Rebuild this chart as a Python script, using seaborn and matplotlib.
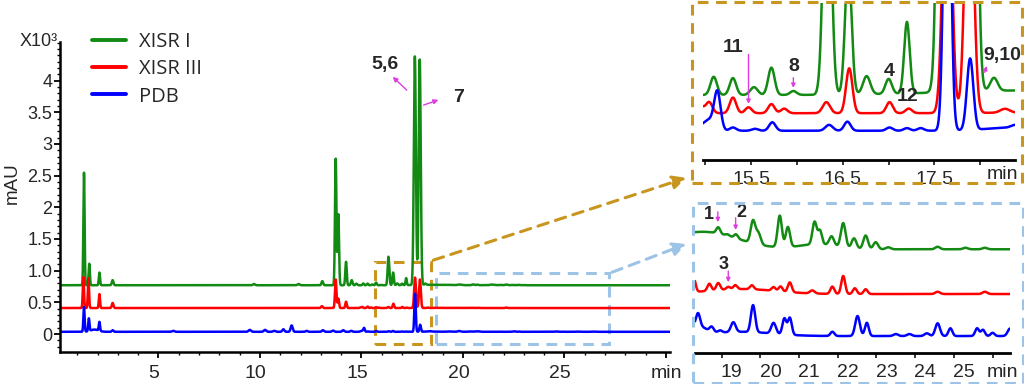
import numpy as np
import pandas as pd
import matplotlib
matplotlib.use("Agg")
import matplotlib.pyplot as plt
import matplotlib.transforms as mtransforms
from matplotlib.lines import Line2D
from matplotlib.patches import Rectangle, FancyArrowPatch
from matplotlib.ticker import MultipleLocator
import seaborn as sns

# Peak tables: retention time (min), height (mAU), sigma (min)
green_rt = [1.33, 1.59, 2.09, 2.74, 9.70, 11.90, 13.07, 13.73, 13.86, 14.24, 14.52, 14.75,
            15.09, 15.30, 15.53, 15.72, 15.96, 16.33, 16.56, 16.76, 17.00, 17.20, 17.63, 17.87,
            18.15, 18.50, 18.91, 19.15, 19.37, 19.81, 19.95, 20.50, 20.71, 21.50, 21.40, 21.54,
            21.84, 22.14, 22.42, 22.72, 22.98, 23.30, 24.58, 25.30, 25.80]
green_h = [1780, 340, 200, 80, 20, 20, 65, 2000, 1120, 370, 80, 25,
           28, 26, 12, 42, 6, 450, 200, 28, 23, 110, 3610, 3560,
           20, 7, 2.5, 0.6, 1.6, 9, 4.4, 12.6, 8, 2, 9, 5.4,
           3.6, 9.6, 4, 5.4, 2.8, 0.8, 1.0, 0.6, 0.6]
green_w = [0.03, 0.03, 0.03, 0.04, 0.05, 0.05, 0.04, 0.035, 0.035, 0.035, 0.04, 0.04,
           0.035, 0.035, 0.04, 0.035, 0.035, 0.04, 0.035, 0.04, 0.035, 0.03, 0.05, 0.05,
           0.04, 0.9, 0.05, 0.05, 0.05, 0.06, 0.06, 0.055, 0.055, 0.5, 0.055, 0.05,
           0.06, 0.06, 0.06, 0.06, 0.06, 0.06, 0.06, 0.06, 0.06]

red_rt = [1.30, 1.55, 2.09, 2.74, 13.05, 13.73, 13.86, 14.24, 14.95, 15.04, 15.30, 15.47,
          15.72, 15.86, 16.32, 16.57, 17.01, 17.22, 17.64, 17.88, 18.27, 19.50, 18.68, 18.91,
          19.17, 19.35, 19.78, 20.34, 20.52, 20.76, 21.34, 21.86, 22.14, 22.44, 22.72, 24.58, 25.80]
red_h = [490, 470, 220, 80, 30, 450, 150, 100, 10, 17, 24, 9,
         14, 7, 17, 69, 17, 7, 480, 450, 6, 2, 2.8, 2.8,
         1.0, 1.6, 1.6, 1.5, 2.0, 3.9, 1.2, 2.9, 7.2, 2.3, 1.9, 0.9, 0.9]
red_w = [0.03, 0.03, 0.03, 0.04, 0.04, 0.035, 0.035, 0.035, 0.035, 0.035, 0.035, 0.035,
         0.035, 0.035, 0.04, 0.035, 0.035, 0.035, 0.044, 0.044, 0.05, 0.9, 0.05, 0.05,
         0.05, 0.05, 0.05, 0.05, 0.05, 0.05, 0.06, 0.05, 0.05, 0.05, 0.05, 0.06, 0.06]

blue_rt = [1.33, 1.57, 1.85, 2.09, 2.74, 5.73, 9.50, 10.25, 10.70, 11.15, 11.56, 12.30,
           13.10, 13.60, 14.10, 14.50, 14.95, 15.04, 15.13, 15.30, 15.54, 15.73, 16.35, 16.55,
           17.01, 17.20, 17.35, 17.64, 17.89, 18.30, 18.39, 19.50, 18.74, 18.96, 19.30, 19.81,
           20.34, 20.62, 20.76, 21.86, 22.51, 22.75, 23.50, 23.85, 24.30, 24.58, 24.91, 25.60,
           25.75, 26.00, 26.45]
blue_h = [390, 200, 35, 140, 25, 15, 30, 30, 15, 40, 100, 15,
          25, 20, 25, 15, 6, 16, 59, 5, 3, 13, 9, 14,
          5, 4, 4, 600, 110, 4, 4.8, 1.7, 1.9, 0.8, 3.9, 10.8,
          4.3, 6.4, 6.8, 1.7, 8.0, 5.3, 0.8, 0.8, 1.1, 5.1, 3.1, 3.1,
          2.5, 1.3, 3.0]
blue_w = [0.03, 0.03, 0.2, 0.03, 0.04, 0.06, 0.06, 0.06, 0.06, 0.05, 0.05, 0.05,
          0.05, 0.05, 0.05, 0.05, 0.04, 0.05, 0.035, 0.035, 0.035, 0.035, 0.04, 0.035,
          0.035, 0.035, 0.035, 0.035, 0.035, 0.25, 0.05, 0.8, 0.05, 0.05, 0.06, 0.055,
          0.06, 0.05, 0.05, 0.05, 0.06, 0.05, 0.06, 0.06, 0.06, 0.06, 0.05, 0.05,
          0.05, 0.05, 0.06]

samples = ["XISR I", "XISR III", "PDB"]
palette = {"XISR I": "#138a13", "XISR III": "#ff0000", "PDB": "#0000ff"}

# vertical offsets of each trace (mAU) in the main plot and in the two zooms
main_offset = [770, 410, 35]
zoom1_offset = [100, 72, 45]
zoom2_offset = [41.6, 23.7, 6.9]

main_yticks = [0, 0.5, 1.0, 1.5, 2, 2.5, 3, 3.5, 4]
main_ylabels = ["0", "0.5", "1.0", "1.5", "2", "2.5", "3", "3.5", "4"]
main_xticks = [5, 10, 15, 20, 25, 30]
main_xlabels = ["5", "10", "15", "20", "25", "min"]
zoom1_xticks = [15.0, 15.5, 16.0, 16.5, 17.0, 17.5, 18.0]
zoom1_xlabels = ["", "15.5", "", "16.5", "", "17.5", ""]
zoom2_xticks = [19, 20, 21, 22, 23, 24, 25, 26]
zoom2_xlabels = ["19", "20", "21", "22", "23", "24", "25", "min"]

tables = {
    "XISR I": (green_rt, green_h, green_w),
    "XISR III": (red_rt, red_h, red_w),
    "PDB": (blue_rt, blue_h, blue_w),
}


def chromatogram(t, rt, h, w):
    """Sum of gaussian peaks evaluated on the time grid t."""
    rt, h, w = (np.asarray(a, float)[:, None] for a in (rt, h, w))
    return (h * np.exp(-0.5 * ((t[None, :] - rt) / w) ** 2)).sum(axis=0)


def build_frame(t, offsets, scale=1.0):
    parts = []
    for name, off in zip(samples, offsets):
        y = (chromatogram(t, *tables[name]) + off) / scale
        parts.append(pd.DataFrame({"time": t, "signal": y, "sample": name}))
    return pd.concat(parts, ignore_index=True)


sns.set_style("ticks")
plt.rcParams["font.family"] = ["Liberation Sans", "DejaVu Sans"]

W, H = 1024, 384
fig = plt.figure(figsize=(W / 100, H / 100), dpi=100)


def fpos(x0, y0, x1, y1):
    # pixel box (top-left origin) -> figure fraction rect
    return [x0 / W, 1 - y1 / H, (x1 - x0) / W, (y1 - y0) / H]


def fpt(x, y):
    return (x / W, 1 - y / H)


lw_trace = 1.8
magenta = "#e03ce0"
gold = "#c8961e"
lightblue = "#9dc3e6"
dash = (0, (3.5, 2.5))

# ---------------- main chromatogram ----------------
ax = fig.add_axes(fpos(60, 42, 670, 352))
t_main = np.arange(0.148, 30.2, 0.004)
df_main = build_frame(t_main, main_offset, scale=1000)
sns.lineplot(data=df_main, x="time", y="signal", hue="sample", hue_order=samples,
             palette=palette, estimator=None, sort=False, lw=lw_trace, legend=False, ax=ax)
ax.set_xlim(0.148, 30.2)
ax.set_ylim(-0.284, 4.61)
ax.set_xlabel("")
ax.set_ylabel("")
ax.set_yticks(main_yticks)
ax.set_yticklabels(main_ylabels, fontsize=13)
ax.set_xticks(main_xticks)
ax.set_xticklabels(main_xlabels, fontsize=14)
ax.xaxis.set_minor_locator(MultipleLocator(1))
ax.yaxis.set_minor_locator(MultipleLocator(0.1))
ax.tick_params(axis="both", which="major", direction="out", length=4, width=1.3, color="black")
ax.tick_params(axis="both", which="minor", direction="out", length=2, width=1.0, color="black")
ax.tick_params(axis="y", pad=1.5)
ax.tick_params(axis="x", pad=5)
for s in ["top", "right"]:
    ax.spines[s].set_visible(False)
for s in ["left", "bottom"]:
    ax.spines[s].set_linewidth(1.8)
    ax.spines[s].set_color("black")
shift = mtransforms.ScaledTranslation(-0.045, 0, fig.dpi_scale_trans)
for lab in ax.get_xticklabels()[:-1]:
    lab.set_transform(lab.get_transform() + shift)

fig.text(58 / W, 1 - 41 / H, "X10³", ha="right", va="center", fontsize=13)
fig.text(12 / W, 1 - 183 / H, "mAU", rotation=90, ha="center", va="center", fontsize=13.5)

handles = [Line2D([], [], color=palette[s], lw=2.8) for s in samples]
ax.legend(handles, samples, loc="upper left", bbox_to_anchor=(92 / W, 1 - 32 / H),
          bbox_transform=fig.transFigure, frameon=False, borderpad=0, borderaxespad=0,
          handlelength=1.7, handletextpad=0.65, labelspacing=0.36,
          prop={"family": "Open Sans", "size": 14.5})

# peak labels on the main plot
ax.text(16.16, 4.25, "5,6", fontsize=14, fontweight="bold", ha="center", va="center")
ax.annotate("", xy=(16.44, 4.09), xytext=(17.33, 3.82),
            arrowprops=dict(arrowstyle="-|>", color=magenta, lw=1, mutation_scale=7))
ax.text(19.77, 3.73, "7", fontsize=14, fontweight="bold", ha="center", va="center")
ax.annotate("", xy=(18.92, 3.71), xytext=(17.93, 3.60),
            arrowprops=dict(arrowstyle="-|>", color=magenta, lw=1, mutation_scale=7))

# zoom windows drawn on the main plot
ax.add_patch(Rectangle((15.67, -0.16), 18.41 - 15.67, 1.30, fill=False, ec=gold, lw=2.2,
                       ls=dash, clip_on=False))
ax.add_patch(Rectangle((18.67, -0.16), 27.21 - 18.67, 1.12, fill=False, ec=lightblue, lw=2.2,
                       ls=dash, clip_on=False))

# ---------------- zoom 1 (15-18.4 min) ----------------
ax1 = fig.add_axes(fpos(702.7, 3, 1015, 160))
t1 = np.arange(14.97, 18.38, 0.002)
df1 = build_frame(t1, zoom1_offset)
sns.lineplot(data=df1, x="time", y="signal", hue="sample", hue_order=samples,
             palette=palette, estimator=None, sort=False, lw=lw_trace, legend=False, ax=ax1)
ax1.set_xlim(14.97, 18.38)
ax1.set_ylim(0, 241.5)

# ---------------- zoom 2 (18.3-26.4 min) ----------------
ax2 = fig.add_axes(fpos(695, 205, 1010, 353.3))
t2 = np.arange(18.31, 26.45, 0.004)
df2 = build_frame(t2, zoom2_offset)
sns.lineplot(data=df2, x="time", y="signal", hue="sample", hue_order=samples,
             palette=palette, estimator=None, sort=False, lw=lw_trace, legend=False, ax=ax2)
ax2.set_xlim(18.31, 26.45)
ax2.set_ylim(0, 59.3)

for a, ticks, labels in [(ax1, zoom1_xticks, zoom1_xlabels), (ax2, zoom2_xticks, zoom2_xlabels)]:
    a.set_xlabel("")
    a.set_ylabel("")
    a.set_yticks([])
    a.set_xticks(ticks)
    a.set_xticklabels(labels, fontsize=14)
    a.tick_params(axis="x", direction="out", length=3.5, width=1.3, pad=4.5)
    for s in ["top", "right", "left"]:
        a.spines[s].set_visible(False)
    a.spines["bottom"].set_linewidth(2)
    a.spines["bottom"].set_color("black")
    a.patch.set_alpha(0)

shift2 = mtransforms.ScaledTranslation(0.1, 0, fig.dpi_scale_trans)
for lab in ax2.get_xticklabels():
    lab.set_transform(lab.get_transform() + shift2)
ax1.text(18.24, -0.095, "min", transform=ax1.get_xaxis_transform(), ha="center", va="center",
         fontsize=14)

# labels inside zoom 1
for txt, x, y in [("11", 15.30, 172.8), ("8", 15.96, 143.5), ("4", 17.01, 135.8),
                  ("12", 17.21, 97.4), ("9,10", 18.24, 161.5)]:
    ax1.text(x, y, txt, fontsize=14, fontweight="bold", ha="center", va="center", clip_on=False)
for (x0, y0), (x1, y1) in [((15.47, 166.6), (15.47, 82)), ((15.96, 130.8), (15.96, 106.6)),
                           ((18.04, 130.8), (18.08, 148.8))]:
    ax1.annotate("", xy=(x1, y1), xytext=(x0, y0),
                 arrowprops=dict(arrowstyle="-|>", color=magenta, lw=1, mutation_scale=6))

# labels inside zoom 2
for txt, x, y in [("1", 18.68, 55.7), ("2", 19.52, 56.2), ("3", 19.04, 35.7)]:
    ax2.text(x, y, txt, fontsize=13, fontweight="bold", ha="center", va="center", clip_on=False)
for (x0, y0), (x1, y1) in [((18.90, 57.7), (18.90, 51.3)), ((19.36, 55.3), (19.36, 48.2)),
                           ((19.17, 34.0), (19.17, 27.3))]:
    ax2.annotate("", xy=(x1, y1), xytext=(x0, y0),
                 arrowprops=dict(arrowstyle="-|>", color=magenta, lw=1, mutation_scale=6),
                 annotation_clip=False)

# frames around the zooms and the connecting arrows
fig.add_artist(Rectangle(fpt(692, 183), (1022 - 692) / W, (183 - 2) / H, transform=fig.transFigure,
                         fill=False, ec=gold, lw=2.2, ls=dash))
fig.add_artist(Rectangle(fpt(692.7, 382.7), (1023 - 692.7) / W, (382.7 - 202.7) / H,
                         transform=fig.transFigure, fill=False, ec=lightblue, lw=2.2, ls=dash))
fig.add_artist(FancyArrowPatch(fpt(430.7, 261), fpt(689, 177), transform=fig.transFigure,
                               arrowstyle="-|>", mutation_scale=20, color=gold, lw=2.2, ls=dash))
fig.add_artist(FancyArrowPatch(fpt(609.3, 273.3), fpt(689, 243), transform=fig.transFigure,
                               arrowstyle="-|>", mutation_scale=20, color=lightblue, lw=2.2,
                               ls=dash))

fig.savefig("out.png", dpi=100)
